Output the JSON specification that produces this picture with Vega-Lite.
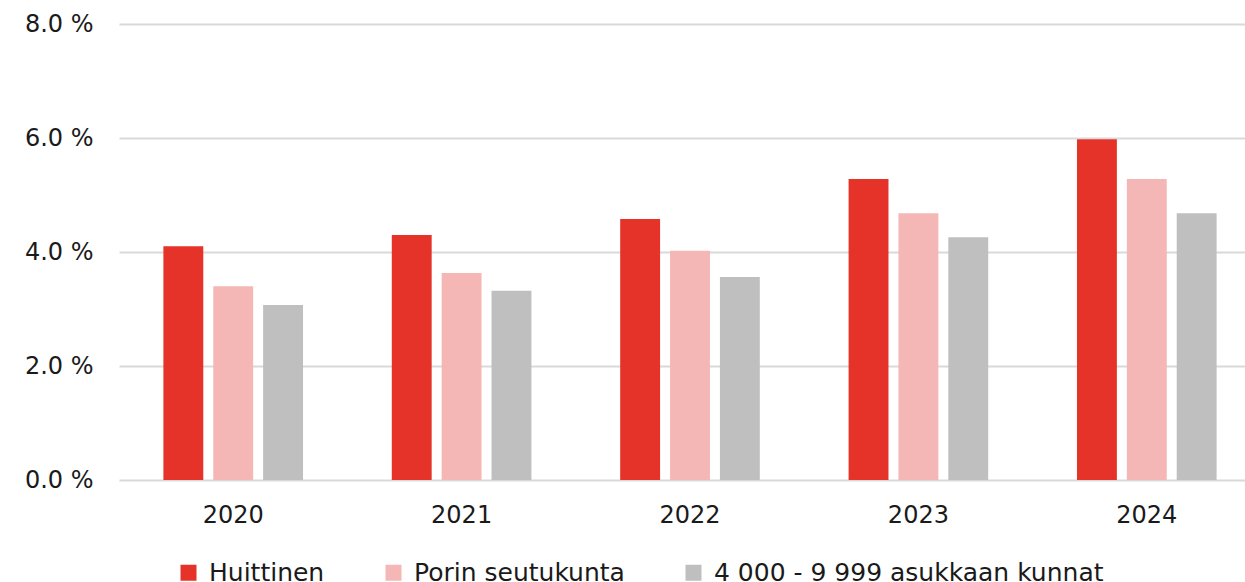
{
  "$schema": "https://vega.github.io/schema/vega-lite/v6.json",
  "width": 1142,
  "height": 456,
  "autosize": {"type": "none"},
  "padding": {"left": 119, "top": 24, "right": 0, "bottom": 102},
  "background": "white",
  "data": {
    "values": [
      {"year": "2020", "series": "Huittinen", "value": 4.1},
      {"year": "2020", "series": "Porin seutukunta", "value": 3.4},
      {"year": "2020", "series": "4 000 - 9 999 asukkaan kunnat", "value": 3.07},
      {"year": "2021", "series": "Huittinen", "value": 4.3},
      {"year": "2021", "series": "Porin seutukunta", "value": 3.63},
      {"year": "2021", "series": "4 000 - 9 999 asukkaan kunnat", "value": 3.32},
      {"year": "2022", "series": "Huittinen", "value": 4.58},
      {"year": "2022", "series": "Porin seutukunta", "value": 4.02},
      {"year": "2022", "series": "4 000 - 9 999 asukkaan kunnat", "value": 3.56},
      {"year": "2023", "series": "Huittinen", "value": 5.28},
      {"year": "2023", "series": "Porin seutukunta", "value": 4.68},
      {"year": "2023", "series": "4 000 - 9 999 asukkaan kunnat", "value": 4.26},
      {"year": "2024", "series": "Huittinen", "value": 5.98},
      {"year": "2024", "series": "Porin seutukunta", "value": 5.28},
      {"year": "2024", "series": "4 000 - 9 999 asukkaan kunnat", "value": 4.68}
    ]
  },
  "mark": {"type": "bar"},
  "encoding": {
    "x": {
      "field": "year",
      "type": "nominal",
      "scale": {"paddingInner": 0.345, "paddingOuter": 0.1725},
      "axis": {
        "title": null,
        "labelAngle": 0,
        "labelFont": "DejaVu Sans",
        "labelFontSize": 24,
        "labelColor": "#1a1a1a",
        "labelPadding": 23,
        "ticks": false,
        "domain": false,
        "grid": false
      }
    },
    "xOffset": {
      "field": "series",
      "type": "nominal",
      "sort": ["Huittinen", "Porin seutukunta", "4 000 - 9 999 asukkaan kunnat"],
      "scale": {"paddingInner": 0.2, "paddingOuter": 0.1}
    },
    "y": {
      "field": "value",
      "type": "quantitative",
      "scale": {"domain": [0, 8], "nice": false},
      "axis": {
        "title": null,
        "values": [0, 2, 4, 6, 8],
        "labelExpr": "format(datum.value, '.1f') + ' %'",
        "labelFont": "DejaVu Sans",
        "labelFontSize": 24,
        "labelColor": "#1a1a1a",
        "labelPadding": 26,
        "ticks": false,
        "domain": false,
        "grid": true,
        "gridColor": "#d9d9d9",
        "gridWidth": 2
      }
    },
    "color": {
      "field": "series",
      "type": "nominal",
      "sort": ["Huittinen", "Porin seutukunta", "4 000 - 9 999 asukkaan kunnat"],
      "scale": {
        "domain": ["Huittinen", "Porin seutukunta", "4 000 - 9 999 asukkaan kunnat"],
        "range": ["#e5332a", "#f5b7b5", "#bfbfbf"]
      },
      "legend": {
        "title": null,
        "orient": "none",
        "legendX": 57,
        "legendY": 536,
        "direction": "horizontal",
        "columns": 3,
        "symbolType": "square",
        "symbolSize": 256,
        "symbolStrokeWidth": 0,
        "labelFont": "DejaVu Sans",
        "labelFontSize": 25,
        "labelColor": "#1a1a1a",
        "labelOffset": 8,
        "columnPadding": 56,
        "labelLimit": 600
      }
    }
  },
  "config": {"view": {"stroke": null}}
}
